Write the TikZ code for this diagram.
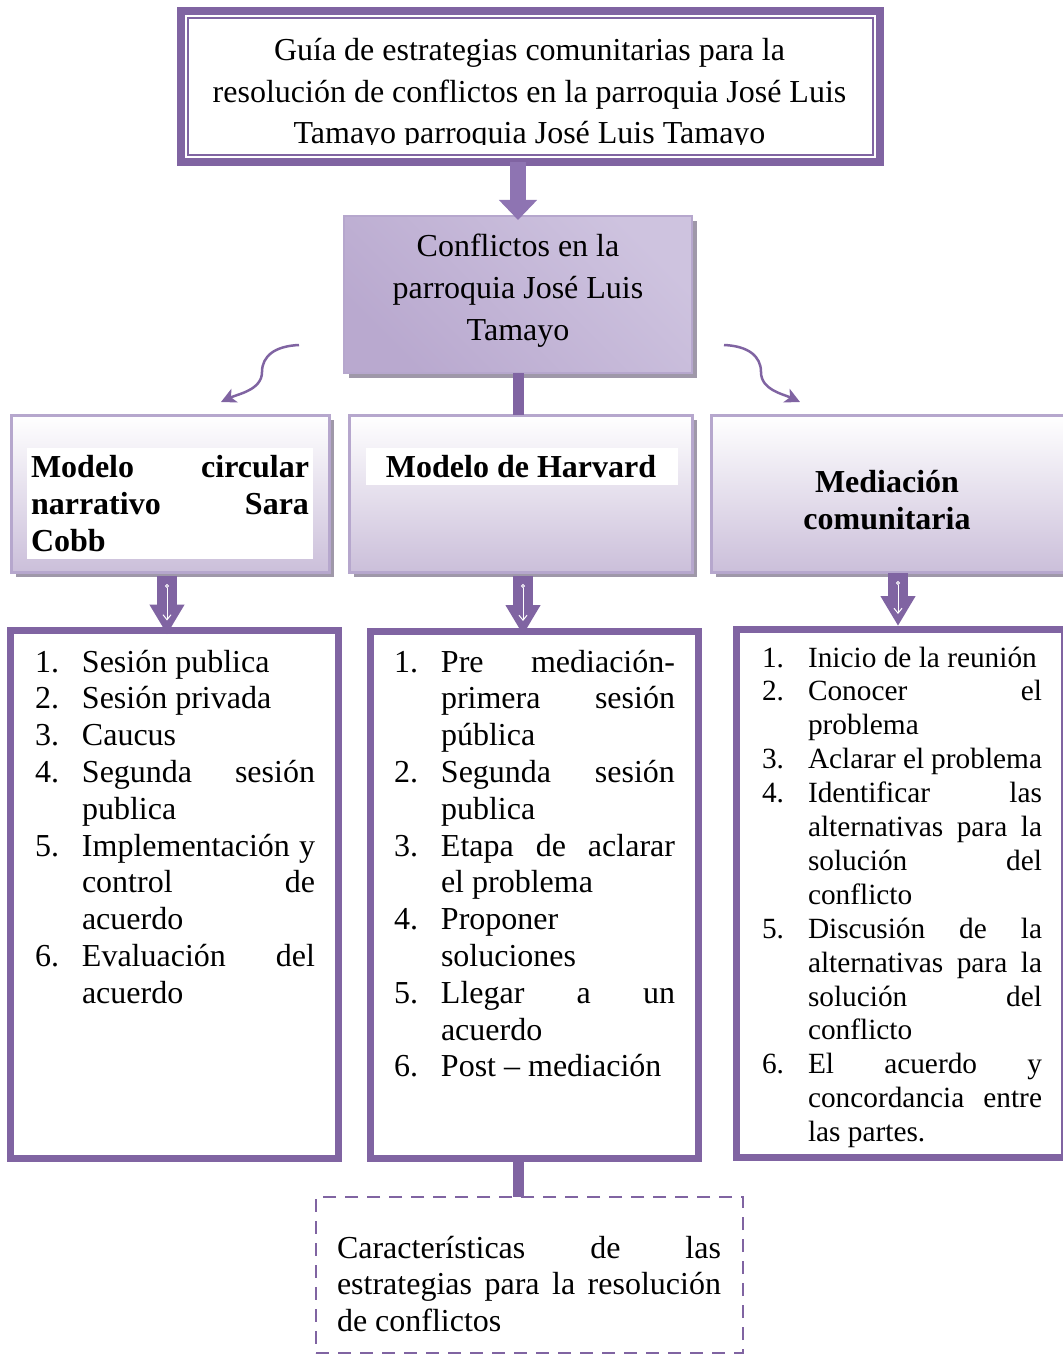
\documentclass[tikz,border=0pt]{standalone}
\usepackage{fontspec}
\setmainfont{Liberation Serif}
\usetikzlibrary{calc}
\usetikzlibrary{shadows}
\usetikzlibrary{arrows.meta}

\definecolor{purp}{HTML}{8064A2}
\definecolor{toparrow}{HTML}{8E74B2}
\definecolor{lightpurp}{HTML}{B6A7CD}
\definecolor{lavender}{HTML}{CBBFDA}
\definecolor{confdark}{HTML}{B9A9CF}
\definecolor{conflight}{HTML}{E7E2EF}
\definecolor{confmid}{HTML}{CEC3DF}
\definecolor{shadowc}{HTML}{9F98A9}

% no hyphenation, take any stretched line
\tolerance=10000 \hbadness=10000
\hyphenpenalty=10000 \exhyphenpenalty=10000

\newlength\lstind
\newcommand\lstitem[2]{\noindent\hangindent=\lstind\hangafter=1%
  \makebox[\lstind][l]{#1.}#2\par}

\tikzset{
  bigframe/.style={draw=purp, line width=8pt, inner sep=0pt, outer sep=0pt, anchor=north west},
  confbox/.style={draw=lightpurp, line width=2pt, inner sep=0pt, outer sep=0pt, anchor=north west,
    bottom color=confdark, middle color=conflight, top color=confmid, shading angle=-45,
    drop shadow={shadow xshift=5pt, shadow yshift=-5pt, fill=shadowc, opacity=1}},
  headbox/.style={draw=lightpurp, line width=3pt, inner sep=0pt, outer sep=0pt, anchor=north west,
    top color=white, bottom color=lavender,
    drop shadow={shadow xshift=5pt, shadow yshift=-5pt, fill=shadowc, opacity=1}},
  listbox/.style={draw=purp, line width=7pt, fill=white, inner sep=0pt, outer sep=0pt, anchor=north west},
  carbox/.style={draw=purp, line width=2.5pt, dash pattern=on 13pt off 9pt, inner sep=0pt, outer sep=0pt, anchor=north west},
  bodytxt/.style={inner sep=0pt, outer sep=0pt, font=\fontsize{32}{36.8}\selectfont},
  fatarrow/.style={draw=purp, line width=20pt, -{Triangle[width=33pt,length=30pt]}},
  tickarrow/.style={draw=white, line width=1pt, {Circle[open,length=4pt]}-{Straight Barb[length=5pt,width=8pt]}},
  joint/.style={draw=purp, line width=11pt},
  curvearrow/.style={draw=purp, line width=2.5pt, -{Stealth[length=15pt,width=15pt,inset=4pt]}}
}

\begin{document}
\begin{tikzpicture}[x=1pt,y=-1pt]
	\useasboundingbox (0,0) rectangle (1062,1356);

	%% top title box
	\node[bigframe, minimum width=699, minimum height=151] (guia) at (181,11) {};
	\draw[purp, line width=1.5pt] ($(guia.north west)+(7,7)$) rectangle ($(guia.south east)+(-7,-7)$);
	\begin{scope}
	  \clip ($(guia.north west)+(7,7)$) rectangle ($(guia.south east)+(-7,-17)$);
	  \node[bodytxt, font=\fontsize{32}{41.5}\selectfont, anchor=base, text width=680pt, align=flush center]
	    (guiatxt) at (529.5,61) {Guía de estrategias comunitarias para la\\
	    resolución de conflictos en la parroquia José Luis\\
	    Tamayo parroquia José Luis Tamayo};
	\end{scope}

	%% conflicts box
	\node[confbox, minimum width=348, minimum height=157] (conf) at (344,216) {};
	\node[bodytxt, font=\fontsize{32}{42}\selectfont, anchor=base, text width=330pt, align=flush center]
	  (conftxt) at (518,257) {Conflictos en la\\parroquia José Luis\\Tamayo};

	% title -> conflicts
	\draw[draw=toparrow, line width=16pt, -{Triangle[width=37pt,length=20pt]}]
	  (conf.north |- guia.south) -- ($(conf.north)+(0,4)$);

	%% the three models
	\node[headbox, minimum width=318, minimum height=157] (cobb) at (11,415) {};
	\node[headbox, minimum width=343, minimum height=157] (harv) at (349,415) {};
	\node[headbox, minimum width=362, minimum height=157] (medi) at (711,415) {};

	\fill[white] (27,448) rectangle (313,559);
	\fill[white] (366,448) rectangle (678,485);
	\node[bodytxt, font=\fontsize{32}{37}\selectfont\bfseries, anchor=base west, text width=278pt, align=justify]
	  (cobbtxt) at (31,477) {Modelo circular\linebreak narrativo Sara\linebreak Cobb};
	\node[bodytxt, font=\fontsize{32}{37}\selectfont\bfseries, anchor=base, text width=312pt, align=flush center]
	  (harvtxt) at (521,477) {Modelo de Harvard};
	\node[bodytxt, font=\fontsize{32}{37}\selectfont\bfseries, anchor=base, text width=300pt, align=flush center]
	  (meditxt) at (887,492) {Mediación\\comunitaria};

	% conflicts -> models
	\draw[joint] (conf.south) -- (conf.south |- harv.north);
	\coordinate (lstart) at ($(conf.west)+(-45,50.5)$);
	\coordinate (lend) at ($(cobb.north)+(51,-13)$);
	\coordinate (rstart) at ($(conf.east)+(32,50.5)$);
	\coordinate (rend) at ($(medi.north)+(-92,-13)$);
	\draw[curvearrow] (lstart) .. controls +(-24,1) and +(0,-16) .. ($(lstart)+(-37,27)$)
	  .. controls +(0,18) and +(17,-8) .. (lend);
	\draw[curvearrow] (rstart) .. controls +(24,1) and +(0,-16) .. ($(rstart)+(37,27)$)
	  .. controls +(0,18) and +(-17,-8) .. (rend);

	%% step lists
	\node[listbox, minimum width=328, minimum height=528] (lst1) at (10.5,630.5) {};
	\node[listbox, minimum width=328, minimum height=527.5] (lst2) at (370,631) {};
	\node[listbox, minimum width=328, minimum height=528] (lst3) at (736,629) {};

	\node[bodytxt, anchor=base west, text width=280pt, align=justify] (lst1txt) at (35,672) {%
	  \setlength\lstind{47pt}%
	  \lstitem{1}{Sesión publica}
	  \lstitem{2}{Sesión privada}
	  \lstitem{3}{Caucus}
	  \lstitem{4}{Segunda sesión\linebreak publica}
	  \lstitem{5}{Implementación y\linebreak control de\linebreak acuerdo}
	  \lstitem{6}{Evaluación del\linebreak acuerdo}};

	\node[bodytxt, anchor=base west, text width=281pt, align=justify] (lst2txt) at (394,672) {%
	  \setlength\lstind{47pt}%
	  \lstitem{1}{Pre mediación-\linebreak primera sesión\linebreak pública}
	  \lstitem{2}{Segunda sesión\linebreak publica}
	  \lstitem{3}{Etapa de aclarar\linebreak el problema}
	  \lstitem{4}{Proponer\linebreak soluciones}
	  \lstitem{5}{Llegar a un\linebreak acuerdo}
	  \lstitem{6}{Post – mediación}};

	\node[bodytxt, font=\fontsize{29.33}{33.9}\selectfont, anchor=base west, text width=280pt, align=justify]
	  (lst3txt) at (762,667) {%
	  \setlength\lstind{46pt}%
	  \lstitem{1}{Inicio de la reunión}
	  \lstitem{2}{Conocer el\linebreak problema}
	  \lstitem{3}{Aclarar el problema}
	  \lstitem{4}{Identificar las\linebreak alternativas para la\linebreak solución del\linebreak conflicto}
	  \lstitem{5}{Discusión de la\linebreak alternativas para la\linebreak solución del\linebreak conflicto}
	  \lstitem{6}{El acuerdo y\linebreak concordancia entre\linebreak las partes.}};

	% models -> lists
	\draw[fatarrow] ($(cobb.south)+(-3,4)$) -- ($(lst1.north)+(-7.5,4)$);
	\draw[fatarrow] ($(harv.south)+(2.5,4)$) -- ($(lst2.north)+(-11,4)$);
	\draw[fatarrow] ($(medi.south)+(6,1)$) -- ($(lst3.north)+(-2,-3)$);
	\draw[tickarrow] ($(cobb.south)+(-3,12)$) -- ($(lst1.north)+(-7.5,-10)$);
	\draw[tickarrow] ($(harv.south)+(2.5,12)$) -- ($(lst2.north)+(-11,-10)$);
	\draw[tickarrow] ($(medi.south)+(6,9)$) -- ($(lst3.north)+(-2,-15)$);

	%% characteristics box
	\node[carbox, minimum width=427, minimum height=156] (car) at (316,1197) {};
	\node[bodytxt, anchor=base west, text width=384pt, align=justify] (cartxt) at (337,1258)
	  {Características de las\linebreak estrategias para la resolución\linebreak de conflictos};
	\draw[joint] ($(lst2.south)+(-15.5,0)$) -- ($(car.north)+(-11,0)$);
\end{tikzpicture}
\end{document}
